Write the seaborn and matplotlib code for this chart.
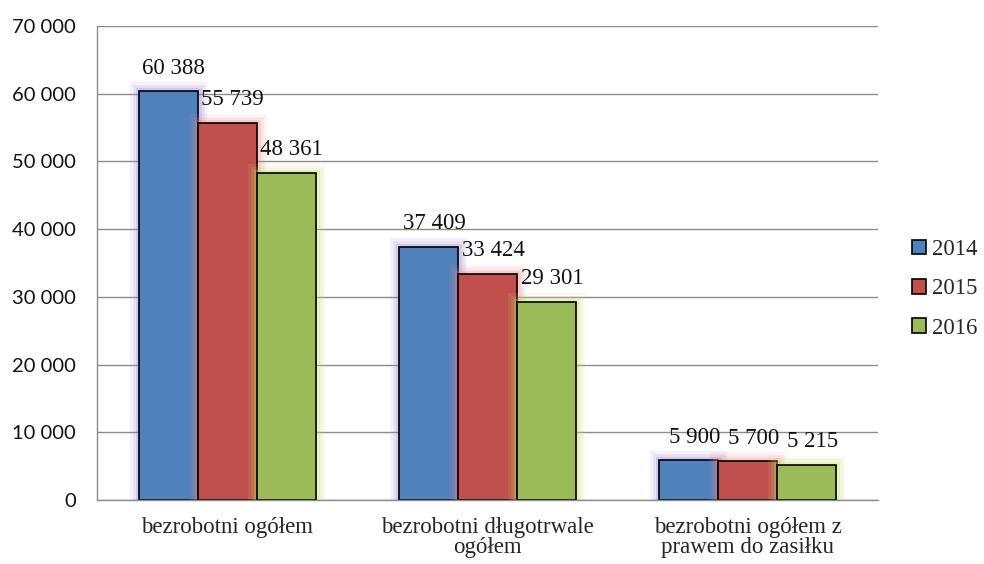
import matplotlib
matplotlib.use("Agg")
import matplotlib.pyplot as plt
import matplotlib.patheffects as pe
from matplotlib.ticker import FuncFormatter, FixedLocator
import pandas as pd
import seaborn as sns

# dane
categories = ["bezrobotni ogółem", "bezrobotni długotrwale\nogółem", "bezrobotni ogółem z\nprawem do zasiłku"]
years = ["2014", "2015", "2016"]
values_2014 = [60388, 37409, 5900]
values_2015 = [55739, 33424, 5700]
values_2016 = [48361, 29301, 5215]

colors = ["#4F81BD", "#C0504D", "#9BBB59"]
glow = ["#9B7FD6", "#F08A8A", "#C8E070"]

df = pd.DataFrame({
    "kategoria": categories * 3,
    "rok": [y for y in years for _ in categories],
    "wartosc": values_2014 + values_2015 + values_2016,
})

sns.set_style("white")
plt.rcParams["font.family"] = ["Liberation Serif", "DejaVu Serif"]

fig = plt.figure(figsize=(9.84, 5.64), dpi=100)
ax = fig.add_axes([0.0986, 0.1135, 0.7937, 0.8404])

sns.barplot(data=df, x="kategoria", y="wartosc", hue="rok", order=categories,
            hue_order=years, palette=colors, width=0.68, edgecolor="black",
            linewidth=1.2, saturation=1, ax=ax)

# poświata + etykiety
for i, cont in enumerate(ax.containers):
    for bar in cont:
        bar.set_path_effects([
            pe.Stroke(linewidth=13, foreground=glow[i], alpha=0.1),
            pe.Stroke(linewidth=9, foreground=glow[i], alpha=0.15),
            pe.Stroke(linewidth=5, foreground=glow[i], alpha=0.25),
            pe.Normal()])
        h = bar.get_height()
        ax.annotate(f"{int(h):,}".replace(",", " "),
                    (bar.get_x() + bar.get_width() / 2, h),
                    xytext=(4, 9), textcoords="offset points",
                    ha="center", va="bottom", fontsize=16.5, color="#111111")

ax.set_ylim(0, 70000)
ax.set_xlim(-0.5, 2.5)
ax.yaxis.set_major_locator(FixedLocator(range(0, 70001, 10000)))
ax.yaxis.set_major_formatter(FuncFormatter(lambda v, p: f"{int(v):,}".replace(",", " ")))
for lab in ax.get_yticklabels():
    lab.set_family("Lato")
    lab.set_fontsize(14.5)
    lab.set_color("#111111")
ax.grid(axis="y", color="#8C8C8C", linewidth=1)
ax.set_axisbelow(True)
ax.tick_params(axis="y", length=7, color="#8C8C8C", width=1, pad=8)
ax.tick_params(axis="x", which="major", length=0, labelsize=16.5, pad=12)
for lab in ax.get_xticklabels():
    lab.set_linespacing(0.95)
ax.set_xticks([-0.5, 0.5, 1.5, 2.5], minor=True)
ax.tick_params(axis="x", which="minor", length=6, color="#8C8C8C", width=1, direction="out")

for s in ["top", "right"]:
    ax.spines[s].set_visible(False)
for s in ["left", "bottom"]:
    ax.spines[s].set_color("#8C8C8C")
    ax.spines[s].set_linewidth(1)

ax.set_xlabel("")
ax.set_ylabel("")

handles, labels = ax.get_legend_handles_labels()
ax.get_legend().remove()
leg = fig.legend(handles, labels, loc="center left", bbox_to_anchor=(0.918, 0.4876),
                 frameon=False, fontsize=16.5, handlelength=0.6, handleheight=0.6,
                 handletextpad=0.25, labelspacing=0.8, borderaxespad=0)
for h in leg.legend_handles:
    h.set_path_effects([])
    h.set_edgecolor("black")
    h.set_linewidth(1.2)

fig.savefig("out.png", dpi=100, facecolor="white")
